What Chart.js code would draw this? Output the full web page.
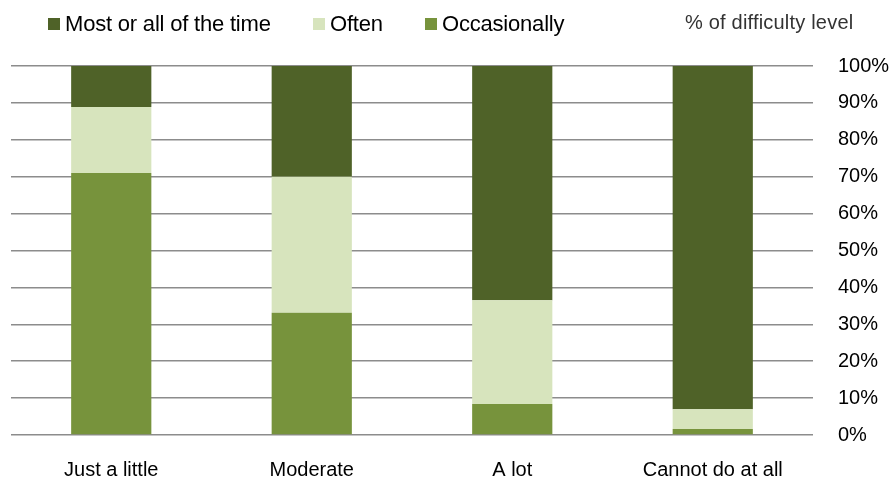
<!DOCTYPE html>
<html>
<head>
<meta charset="utf-8">
<script src="https://cdn.jsdelivr.net/npm/chart.js@4/dist/chart.umd.min.js"></script>
<style>
  html,body{margin:0;padding:0;background:#fff;}
  #wrap{position:relative;width:893px;height:484px;font-family:"Liberation Sans",Arial,sans-serif;}
  .it{position:absolute;top:11px;display:flex;align-items:center;font-size:22px;color:#000;letter-spacing:-0.2px;white-space:nowrap;}
  .it i{display:inline-block;width:12px;height:12px;margin-right:5px;}
  #unit{position:absolute;left:685px;top:11px;font-size:20px;color:#333;letter-spacing:0.2px;}
  canvas{position:absolute;left:0;top:0;}
</style>
</head>
<body>
<div id="wrap">
  <canvas id="c" width="893" height="484"></canvas>
  <div id="unit">% of difficulty level</div>
</div>
<script>
const categories = ['Just a little', 'Moderate', 'A lot', 'Cannot do at all'];
const mostOrAll = [11.1, 30.0, 63.5, 93.0];
const often = [17.9, 36.9, 28.1, 5.4];
const occasionally = [71.0, 33.1, 8.4, 1.6];
const yTicks = [0, 10, 20, 30, 40, 50, 60, 70, 80, 90, 100];

const series = [
  {label:'Occasionally', data: occasionally, color:'#77933C'},
  {label:'Often', data: often, color:'#D7E4BD'},
  {label:'Most or all of the time', data: mostOrAll, color:'#4F6228'}
];

// legend in the reference order (top of stack first)
const wrap = document.getElementById('wrap');
const legendX = [48, 313, 425];
series.slice().reverse().forEach((s,i)=>{
  const it = document.createElement('span');
  it.className = 'it';
  it.style.left = legendX[i] + 'px';
  it.innerHTML = `<i style="background:${s.color}"></i>${s.label}`;
  wrap.appendChild(it);
});

new Chart(document.getElementById('c'), {
  type: 'bar',
  data: {
    labels: categories,
    datasets: series.map(s=>({
      label: s.label,
      data: s.data,
      backgroundColor: s.color,
      borderWidth: 0,
      barPercentage: 0.4,
      categoryPercentage: 1
    }))
  },
  options: {
    responsive: false,
    animation: false,
    layout: { padding: { top: 66, left: 11, right: 0, bottom: 0 } },
    plugins: { legend: { display: false }, tooltip: { enabled: false } },
    scales: {
      x: {
        stacked: true,
        grid: { display: false, drawTicks: false },
        border: { display: false },
        afterFit: axis => { axis.height = 49; },
        ticks: { color: '#000', font: { family: 'Liberation Sans', size: 20 }, padding: 23 }
      },
      y: {
        stacked: true,
        position: 'right',
        min: 0, max: 100,
        afterBuildTicks: axis => { axis.ticks = yTicks.map(v=>({value:v})); },
        afterFit: axis => { axis.width = 80; },
        grid: { color: '#8c8c8c', lineWidth: 1.5, drawTicks: false },
        border: { display: false },
        ticks: {
          color: '#000', font: { family: 'Liberation Sans', size: 20 }, padding: 25,
          callback: v => v + '%'
        }
      }
    }
  }
});
</script>
</body>
</html>
